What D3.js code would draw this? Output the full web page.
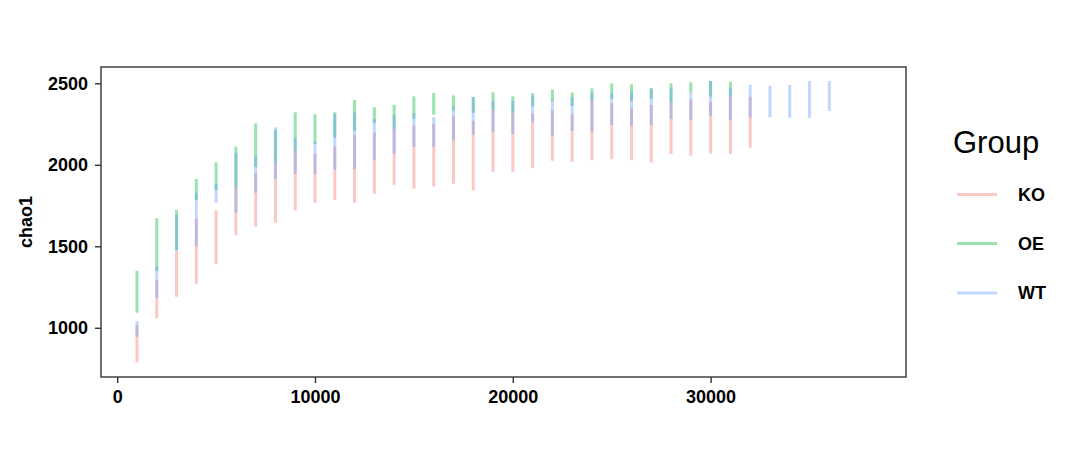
<!DOCTYPE html>
<html>
<head>
<meta charset="utf-8">
<script src="https://cdn.jsdelivr.net/npm/d3@7"></script>
<style>
  html, body { margin: 0; padding: 0; background: #fff; }
  svg { display: block; }
  text { font-family: "Liberation Sans", Arial, sans-serif; }
</style>
</head>
<body>
<svg id="chart" width="1080" height="453"></svg>
<script>
// ---- data ----
const groups = ["KO", "OE", "WT"];
const groupColors = ["#F8766D", "#00BA38", "#619CFF"];

const depthKO = [1000,2000,3000,4000,5000,6000,7000,8000,9000,10000,11000,12000,13000,14000,15000,16000,17000,18000,19000,20000,21000,22000,23000,24000,25000,26000,27000,28000,29000,30000,31000,32000];
const koLow  = [788,1058,1190,1268,1391,1569,1620,1645,1718,1767,1784,1767,1821,1876,1853,1868,1884,1843,1956,1956,1980,2025,2019,2029,2035,2029,2015,2066,2056,2070,2066,2105];
const koHigh = [1017,1293,1473,1667,1722,1859,1948,2019,2085,2066,2111,2183,2197,2218,2240,2250,2297,2270,2338,2318,2313,2334,2310,2391,2377,2350,2367,2383,2402,2387,2418,2414];

const depthOE = [1000,2000,3000,4000,5000,6000,7000,8000,9000,10000,11000,12000,13000,14000,15000,16000,17000,18000,19000,20000,21000,22000,23000,24000,25000,26000,27000,28000,29000,30000,31000];
const oeLow  = [1092,1348,1477,1784,1845,1859,1985,2019,2085,2127,2166,2207,2258,2218,2283,2307,2334,2318,2338,2318,2359,2390,2361,2391,2404,2391,2404,2383,2445,2418,2418];
const oeHigh = [1350,1673,1723,1913,2015,2111,2254,2213,2322,2310,2322,2398,2353,2367,2420,2440,2426,2416,2445,2420,2440,2461,2445,2469,2500,2494,2469,2500,2506,2514,2510];

const depthWT = [1000,2000,3000,4000,5000,6000,7000,8000,9000,10000,11000,12000,13000,14000,15000,16000,17000,18000,19000,20000,21000,22000,23000,24000,25000,26000,27000,28000,29000,30000,31000,32000,33000,34000,35000,36000];
const wtLow  = [945,1184,1473,1502,1767,1706,1829,1913,1943,1943,1968,1974,2029,2066,2109,2109,2150,2185,2201,2189,2261,2178,2207,2199,2244,2238,2244,2281,2275,2301,2275,2289,2291,2289,2289,2330];
const wtHigh = [1041,1375,1692,1829,1882,2074,2054,2230,2166,2142,2312,2320,2281,2305,2318,2293,2359,2416,2390,2390,2420,2399,2414,2439,2439,2445,2469,2469,2445,2514,2469,2490,2485,2490,2514,2514];

const xTicks = [0, 10000, 20000, 30000];
const yTicks = [1000, 1500, 2000, 2500];

// ---- layout ----
const svg = d3.select("#chart");
const panel = { left: 101, right: 906, top: 67, bottom: 377 };

const x = d3.scaleLinear().domain([-819, 39878]).range([panel.left, panel.right]);
const y = d3.scaleLinear().domain([698, 2600]).range([panel.bottom, panel.top]);

const series = [
  { name: "KO", depth: depthKO, lo: koLow, hi: koHigh },
  { name: "OE", depth: depthOE, lo: oeLow, hi: oeHigh },
  { name: "WT", depth: depthWT, lo: wtLow, hi: wtHigh }
];
const color = d3.scaleOrdinal().domain(groups).range(groupColors);

// bars
series.forEach(s => {
  svg.append("g")
    .selectAll("line")
    .data(s.depth.map((d, i) => ({ d, lo: s.lo[i], hi: s.hi[i] })))
    .join("line")
    .attr("x1", d => x(d.d)).attr("x2", d => x(d.d))
    .attr("y1", d => y(d.lo)).attr("y2", d => y(d.hi))
    .attr("stroke", color(s.name))
    .attr("stroke-opacity", 0.4)
    .attr("stroke-width", 3);
});

// panel border
svg.append("rect")
  .attr("x", panel.left).attr("y", panel.top)
  .attr("width", panel.right - panel.left)
  .attr("height", panel.bottom - panel.top)
  .attr("fill", "none").attr("stroke", "#333").attr("stroke-width", 1.4);

// axes
const xAxis = svg.append("g")
  .attr("transform", `translate(0,${panel.bottom})`)
  .call(d3.axisBottom(x).tickValues(xTicks).tickFormat(d3.format("d")).tickSize(6).tickPadding(7));
const yAxis = svg.append("g")
  .attr("transform", `translate(${panel.left},0)`)
  .call(d3.axisLeft(y).tickValues(yTicks).tickFormat(d3.format("d")).tickSize(6).tickPadding(7));

[xAxis, yAxis].forEach(a => {
  a.select(".domain").remove();
  a.selectAll(".tick line").attr("stroke", "#333").attr("stroke-width", 1.4);
  a.selectAll(".tick text")
    .attr("fill", "#000")
    .style("font-size", "18px")
    .style("font-weight", "bold")
    .style("font-family", "'Liberation Sans', Arial, sans-serif");
});

// y title
svg.append("text")
  .attr("transform", `translate(32,${(panel.top + panel.bottom) / 2}) rotate(-90)`)
  .attr("text-anchor", "middle")
  .style("font-size", "18px")
  .style("font-weight", "bold")
  .text("chao1");

// legend
const legend = svg.append("g");
legend.append("text")
  .attr("x", 953).attr("y", 153)
  .style("font-size", "31px")
  .text("Group");
const legendY = [194.5, 243.5, 293];
groups.forEach((g, i) => {
  legend.append("line")
    .attr("x1", 957).attr("x2", 997)
    .attr("y1", legendY[i]).attr("y2", legendY[i])
    .attr("stroke", color(g)).attr("stroke-opacity", 0.4)
    .attr("stroke-width", 3);
  legend.append("text")
    .attr("x", 1018).attr("y", legendY[i])
    .attr("dy", "0.36em")
    .style("font-size", "18px")
    .style("font-weight", "bold")
    .text(g);
});
</script>
</body>
</html>
